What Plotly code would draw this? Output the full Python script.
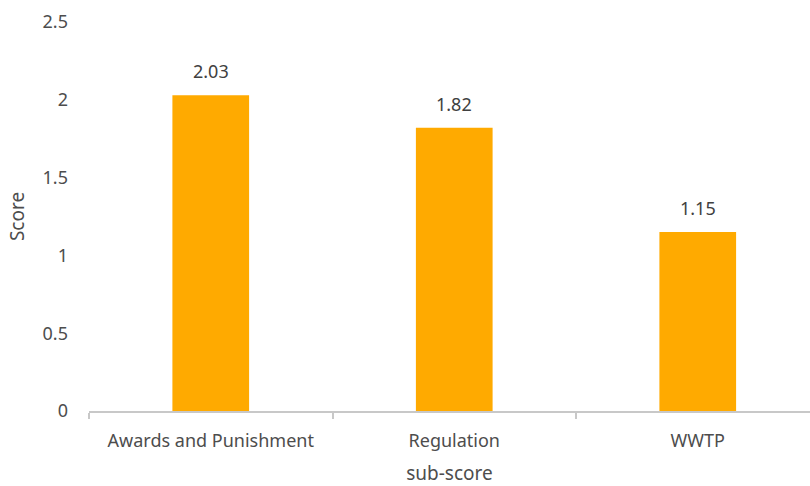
import plotly.graph_objects as go

categories = ["Awards and Punishment", "Regulation", "WWTP"]
scores = [2.03, 1.82, 1.15]
y_ticks = [0, 0.5, 1, 1.5, 2, 2.5]
y_tick_labels = ["0", "0.5", "1", "1.5", "2", "2.5"]

FONT = "Noto Sans"
BAR_COLOR = "#FFAA00"
TEXT_GRAY = "#4D4D4D"

fig = go.Figure(
    go.Bar(
        x=categories,
        y=scores,
        width=0.315,
        marker=dict(color=BAR_COLOR, line=dict(width=0)),
        hoverinfo="x+y",
    )
)

# value labels above each bar
for cat, val in zip(categories, scores):
    fig.add_annotation(
        x=cat, y=val, text=f"{val:.2f}", showarrow=False,
        yshift=24, yanchor="middle",
        font=dict(family=FONT, size=18, color="#404040"),
    )

fig.update_layout(
    width=810, height=486,
    margin=dict(l=89, r=0, t=22, b=75),
    paper_bgcolor="white", plot_bgcolor="white",
    showlegend=False,
    font=dict(family=FONT, size=18, color=TEXT_GRAY),
    xaxis=dict(
        type="category",
        range=[-0.5, 2.461],
        showline=True, linecolor="#C8C8C8", linewidth=2,
        ticks="outside", tickson="boundaries", ticklen=6, tickcolor="#C8C8C8", tickwidth=2,
        ticklabelstandoff=12,
        tickfont=dict(family=FONT, size=18, color=TEXT_GRAY),
        title=dict(text="sub-score", font=dict(family=FONT, size=19, color=TEXT_GRAY), standoff=20),
        showgrid=False, zeroline=False,
    ),
    yaxis=dict(
        range=[0, 2.5],
        tickvals=y_ticks, ticktext=y_tick_labels,
        showline=False, showgrid=False, zeroline=False,
        ticks="", ticklabelstandoff=20,
        tickfont=dict(family=FONT, size=18, color=TEXT_GRAY),
        title=dict(text="Score", font=dict(family=FONT, size=19, color=TEXT_GRAY), standoff=12),
    ),
)

fig.write_html("out.html")
